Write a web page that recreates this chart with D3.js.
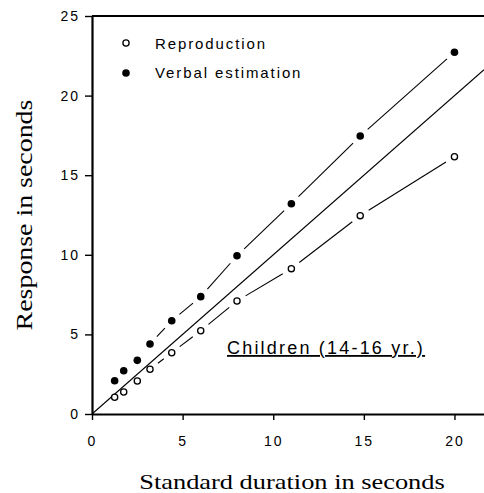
<!DOCTYPE html>
<html>
<head>
<meta charset="utf-8">
<script src="https://cdn.jsdelivr.net/npm/d3@7"></script>
<style>
  body { margin: 0; background: #fff; }
  svg { display: block; }
</style>
</head>
<body>
<svg width="484" height="493"></svg>
<script>
// standard durations (s) and the two kinds of response
var durations = [1.25, 1.75, 2.5, 3.2, 4.4, 6, 8, 11, 14.8, 20];
var reproduction = [1.05, 1.38, 2.07, 2.81, 3.85, 5.23, 7.10, 9.13, 12.46, 16.16];
var verbal = [2.09, 2.72, 3.37, 4.40, 5.86, 7.37, 9.94, 13.21, 17.46, 22.72];
var xTicks = [0, 5, 10, 15, 20];
var yTicks = [0, 5, 10, 15, 20, 25];

var sans = "'Liberation Sans', Arial, sans-serif";
var serif = "'Liberation Serif', 'Times New Roman', serif";

var svg = d3.select("svg");

var x = d3.scaleLinear().domain([0, 21.63]).range([92, 484]);
var y = d3.scaleLinear().domain([0, 25]).range([414, 16]);

//gap left between a marker and the joining line
var gap = 10;

//x axis
var xAxis = svg.append("g")
	.attr("transform", "translate(0," + y(0) + ")")
	.call(d3.axisBottom(x).tickValues(xTicks).tickSize(6).tickSizeOuter(0).tickPadding(16));
xAxis.select(".domain").attr("stroke-width", 2.2);
xAxis.selectAll(".tick line").attr("stroke-width", 1.4);
xAxis.selectAll("text").attr("font-family", sans).attr("font-size", 14)
	.attr("letter-spacing", 2).attr("fill", "#000");

//y axis
var yAxis = svg.append("g")
	.attr("transform", "translate(" + x(0) + ",0)")
	.call(d3.axisLeft(y).tickValues(yTicks).tickSize(7).tickSizeOuter(0).tickPadding(5));
yAxis.select(".domain").attr("stroke-width", 2.2);
yAxis.selectAll(".tick line").attr("stroke-width", 1.4);
yAxis.selectAll("text").attr("font-family", sans).attr("font-size", 14)
	.attr("letter-spacing", 2).attr("fill", "#000");

//top frame line
svg.append("line")
	.attr("x1", x(0)).attr("x2", x(21.63))
	.attr("y1", y(25)).attr("y2", y(25))
	.attr("stroke", "#000").attr("stroke-width", 2.2);

//identity line
svg.append("line")
	.attr("x1", x(0)).attr("y1", y(0))
	.attr("x2", x(21.63)).attr("y2", y(21.63))
	.attr("stroke", "#000").attr("stroke-width", 1.1);

//draws lines between points, stopping short of each marker
function drawJoins(values) {
	var pts = durations.map(function(d, i) { return [x(d), y(values[i])]; });
	for (var i = 0; i < pts.length - 1; i++) {
		var a = pts[i], b = pts[i + 1];
		var dx = b[0] - a[0], dy = b[1] - a[1];
		var len = Math.sqrt(dx * dx + dy * dy);
		if (len - 2 * gap < 2) continue;
		var ux = dx / len, uy = dy / len;
		svg.append("line")
			.attr("x1", a[0] + ux * gap).attr("y1", a[1] + uy * gap)
			.attr("x2", b[0] - ux * gap).attr("y2", b[1] - uy * gap)
			.attr("stroke", "#000").attr("stroke-width", 1.1);
	}
}
drawJoins(reproduction);
drawJoins(verbal);

svg.append("g").selectAll("circle")
	.data(durations)
	.enter().append("circle")
	.attr("cx", function(d) { return x(d); })
	.attr("cy", function(d, i) { return y(reproduction[i]); })
	.attr("r", 3.1)
	.style("fill", "#fff")
	.style("stroke", "#000")
	.style("stroke-width", 1.3);

svg.append("g").selectAll("circle")
	.data(durations)
	.enter().append("circle")
	.attr("cx", function(d) { return x(d); })
	.attr("cy", function(d, i) { return y(verbal[i]); })
	.attr("r", 3.8)
	.style("fill", "#000");

//legend
svg.append("circle").attr("cx", 126).attr("cy", 43).attr("r", 3.1)
	.style("fill", "#fff").style("stroke", "#000").style("stroke-width", 1.3);
svg.append("circle").attr("cx", 126).attr("cy", 73).attr("r", 3.8).style("fill", "#000");
svg.append("text").attr("x", 155).attr("y", 48.5)
	.attr("font-family", sans).attr("font-size", 15).attr("letter-spacing", 1.9)
	.text("Reproduction");
svg.append("text").attr("x", 155).attr("y", 78)
	.attr("font-family", sans).attr("font-size", 15).attr("letter-spacing", 1.9)
	.text("Verbal estimation");

//group label
svg.append("text").attr("x", 227).attr("y", 354)
	.attr("font-family", sans).attr("font-size", 18).attr("letter-spacing", 2.2)
	.attr("text-decoration", "underline")
	.text("Children (14-16 yr.)");

//axis titles, glyphs are wide in the original so stretch them a little
svg.append("text")
	.attr("transform", "translate(292,489) scale(1.2,1)")
	.attr("text-anchor", "middle")
	.attr("font-family", serif).attr("font-size", 22)
	.text("Standard duration in seconds");
svg.append("text")
	.attr("transform", "translate(32,215) rotate(-90) scale(1.24,1)")
	.attr("text-anchor", "middle")
	.attr("font-family", serif).attr("font-size", 22.5)
	.text("Response in seconds");
</script>
</body>
</html>
